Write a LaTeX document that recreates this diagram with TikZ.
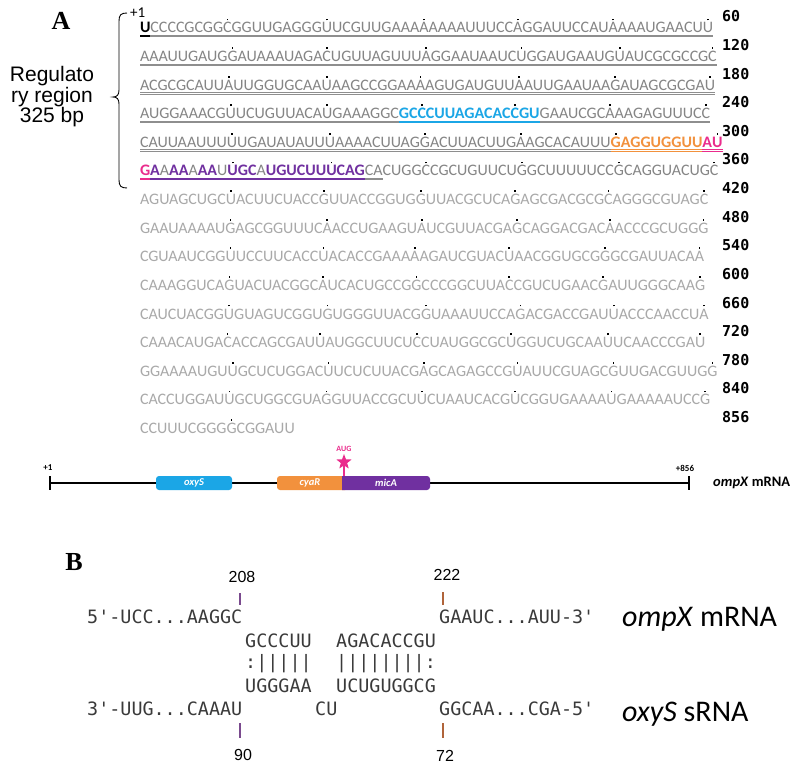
\documentclass[tikz,border=0pt]{standalone}
\usepackage{fontspec}
\setmainfont{Carlito}
\newfontfamily\arialf{Liberation Sans}
\newfontfamily\timesf{Liberation Serif}
\newfontfamily\monof{DejaVu Sans Mono}
\usetikzlibrary{shapes.geometric}
\definecolor{regg}{HTML}{858585}
\definecolor{ulg}{HTML}{8E8E8E}
\definecolor{cdsg}{HTML}{A9A9A9}
\definecolor{oxyblue}{HTML}{1BA6E6}
\definecolor{cyaor}{HTML}{F2913D}
\definecolor{micpur}{HTML}{7030A0}
\definecolor{augpink}{HTML}{EA2C8C}
\definecolor{bmono}{HTML}{3A3A3A}
\definecolor{tickpur}{HTML}{7A4A8E}
\definecolor{tickor}{HTML}{B0643A}
\newcommand\sdot[1]{\setbox2=\hbox{#1}\rlap{\hbox to \wd2{\hss\textcolor{black}{\rule[12.6pt]{1.7pt}{1.7pt}}\hss}}\box2}
\newcommand\useg[3]{\setbox0=\hbox{\color{#1}#3}\rlap{\color{#2}\rule[-2.6pt]{\wd0}{0.65pt}}\rlap{\color{#2}\rule[-4.1pt]{\wd0}{0.65pt}}\box0}
\newcommand\rgs[1]{\useg{regg}{ulg}{#1}}
\newcommand\bls[1]{\useg{oxyblue}{oxyblue}{\bfseries #1}}
\newcommand\ors[1]{\useg{cyaor}{cyaor}{\bfseries #1}}
\newcommand\pks[1]{\useg{augpink}{augpink}{\bfseries #1}}
\newcommand\pus[1]{\useg{micpur}{micpur}{\bfseries #1}}
\newcommand\pns[1]{\useg{regg}{micpur}{#1}}
\tikzset{
 seq/.style={anchor=base west, inner sep=0pt, outer sep=0pt, font=\fontsize{16}{19}\selectfont, text=cdsg},
 num/.style={anchor=base west, inner sep=0pt, font=\monof\bfseries\fontsize{15}{17}\selectfont},
 mono/.style={anchor=base west, inner sep=0pt, font=\monof\fontsize{18.4}{20}\selectfont, text=bmono},
 panel/.style={inner sep=0pt, font=\timesf\bfseries\fontsize{26}{30}\selectfont},
 posn/.style={inner sep=0pt, font=\arialf\fontsize{16}{19}\selectfont},
 rnalab/.style={anchor=base west, inner sep=0pt, font=\fontsize{30}{34}\selectfont},
 mapline/.style={line width=1.3pt},
 boxlab/.style={inner sep=0pt, text=white, font=\bfseries\itshape\fontsize{10.5}{12}\selectfont},
 posmark/.style={line width=1.3pt},
 maptxt/.style={inner sep=0pt, font=\bfseries\fontsize{9}{10}\selectfont},
}
\begin{document}
\begin{tikzpicture}[x=1pt,y=-1pt]
\fill[white] (0,0) rectangle (797,767);
\useasboundingbox (0,0) rectangle (797,767);
% ---------- panel A ----------
\node[panel] (pA) at (61,21) {A};
\node[align=center, inner sep=0pt, font=\arialf\fontsize{21}{18}\selectfont] (reg) at (52,96.6) {Regulato\\ry region\\325 bp};
\draw[line width=0.9pt] (127,13) .. controls (121,13) and (119,15) .. (119,21) -- (119,90) .. controls (119,95) and (117,97) .. (113,97) .. controls (117,97) and (119,99) .. (119,104) -- (119,180) .. controls (119,186) and (121,188) .. (127,188);
\node[anchor=base west, inner sep=0pt, font=\fontsize{15}{17}\selectfont] (p1) at (130,18) {+1};
\node[seq] (r1) at (140,33) {\useg{black}{black}{\bfseries U}\rgs{CCCCGCGG\sdot{C}GGUUGAGGG\sdot{U}UCGUUGAAA\sdot{A}AAAAUUUCC\sdot{A}GGAUUCCAU\sdot{A}AAAUGAACU\sdot{U}}};
\node[seq] (r2) at (140,61.6) {\rgs{AAAUUGAUG\sdot{G}AUAAAUAGA\sdot{C}UGUUAGUUU\sdot{A}GGAAUAAUC\sdot{U}GGAUGAAUG\sdot{U}AUCGCGCCG\sdot{C}}};
\node[seq] (r3) at (140,90.2) {\rgs{ACGCGCAUU\sdot{A}UUGGUGCAA\sdot{U}AAGCCGGAA\sdot{A}AGUGAUGUU\sdot{A}AUUGAAUAA\sdot{G}AUAGCGCGA\sdot{U}}};
\node[seq] (r4) at (140,118.8) {\rgs{AUGGAAACG\sdot{U}UCUGUUACA\sdot{U}GAAAGGC}\bls{GC\sdot{C}CUUAGACAC\sdot{C}GU}\rgs{GAAUCGC\sdot{A}AAGAGUUUC\sdot{C}}};
\node[seq] (r5) at (140,147.4) {\rgs{CAUUAAUUU\sdot{U}UGAUAUAUU\sdot{U}AAAACUUAG\sdot{G}ACUUACUUG\sdot{A}AGCACAUUU}\ors{\sdot{G}AGGUGGUU}\pks{A\sdot{U}}};
\node[seq] (r6) at (140,176) {\pks{G}\pus{A}\pns{A}\pus{AA}\pns{A}\pus{AA}\pns{U}\pus{\sdot{U}GC}\pns{A}\pus{UGUCUU\sdot{U}CAG}\rgs{CA}CUGG\sdot{C}CGCUGUUCU\sdot{G}GCUUUUUCC\sdot{G}CAGGUACUG\sdot{C}};
\node[seq] (r7) at (140,204.6) {AGUAGCUGC\sdot{U}ACUUCUACC\sdot{G}UUACCGGUG\sdot{G}UUACGCUCA\sdot{G}AGCGACGCG\sdot{C}AGGGCGUAG\sdot{C}};
\node[seq] (r8) at (140,233.2) {GAAUAAAAU\sdot{G}AGCGGUUUC\sdot{A}ACCUGAAGU\sdot{A}UCGUUACGA\sdot{G}CAGGACGAC\sdot{A}ACCCGCUGG\sdot{G}};
\node[seq] (r9) at (140,261.8) {CGUAAUCGG\sdot{U}UCCUUCACC\sdot{U}ACACCGAAA\sdot{A}AGAUCGUAC\sdot{U}AACGGUGCG\sdot{G}GCGAUUACA\sdot{A}};
\node[seq] (r10) at (140,290.4) {CAAAGGUCA\sdot{G}UACUACGGC\sdot{A}UCACUGCCG\sdot{G}CCCGGCUUA\sdot{C}CGUCUGAAC\sdot{G}AUUGGGCAA\sdot{G}};
\node[seq] (r11) at (140,319) {CAUCUACGG\sdot{U}GUAGUCGGU\sdot{G}UGGGUUACG\sdot{G}UAAAUUCCA\sdot{G}ACGACCGAU\sdot{U}ACCCAACCU\sdot{A}};
\node[seq] (r12) at (140,347.6) {CAAACAUGA\sdot{C}ACCAGCGAU\sdot{U}AUGGCUUCU\sdot{C}CUAUGGCGC\sdot{U}GGUCUGCAA\sdot{U}UCAACCCGA\sdot{U}};
\node[seq] (r13) at (140,376.2) {GGAAAAUGU\sdot{U}GCUCUGGAC\sdot{U}UCUCUUACG\sdot{A}GCAGAGCCG\sdot{U}AUUCGUAGC\sdot{G}UUGACGUUG\sdot{G}};
\node[seq] (r14) at (140,404.8) {CACCUGGAU\sdot{U}GCUGGCGUA\sdot{G}GUUACCGCU\sdot{U}CUAAUCACG\sdot{U}CGGUGAAAA\sdot{U}GAAAAAUCC\sdot{G}};
\node[seq] (r15) at (140,433.4) {CCUUUCGGG\sdot{G}CGGAUU};
\node[num] (n1) at (722,22) {60};
\node[num] (n2) at (722,50.6) {120};
\node[num] (n3) at (722,79.2) {180};
\node[num] (n4) at (722,107.8) {240};
\node[num] (n5) at (722,136.4) {300};
\node[num] (n6) at (722,165) {360};
\node[num] (n7) at (722,193.6) {420};
\node[num] (n8) at (722,222.2) {480};
\node[num] (n9) at (722,250.8) {540};
\node[num] (n10) at (722,279.4) {600};
\node[num] (n11) at (722,308) {660};
\node[num] (n12) at (722,336.6) {720};
\node[num] (n13) at (722,365.2) {780};
\node[num] (n14) at (722,393.8) {840};
\node[num] (n15) at (722,422.4) {856};
% ---------- map ----------
\coordinate (mL) at (50,483);
\coordinate (mR) at (689,483);
\draw[mapline] (mL) -- (mR);
\draw[mapline] ([yshift=7pt]mL) -- ([yshift=-7pt]mL);
\draw[mapline] ([yshift=7pt]mR) -- ([yshift=-7pt]mR);
\node[draw=none, fill=oxyblue, rounded corners=3pt, minimum width=76pt, minimum height=14pt, inner sep=0pt] (boxo) at (194,483) {};
\node[boxlab] (labo) at (boxo) {oxyS};
\fill[cyaor] (345,476) [rounded corners=3pt] -- (277,476) -- (277,490) [sharp corners] -- (345,490) -- cycle;
\fill[micpur] (342,476) [rounded corners=3pt] -- (430,476) -- (430,490) [sharp corners] -- (342,490) -- cycle;
\node[boxlab] (labc) at (310,483) {cyaR};
\node[boxlab] (labm) at (386,483) {micA};
\coordinate (stemb) at (344,476);
\node[star, star points=5, star point ratio=2.4, fill=augpink, minimum size=16pt, inner sep=0pt] (aug) at (344,462) {};
\draw[augpink, line width=1.3pt] (aug.center) -- (stemb);
\node[maptxt, text=augpink, font=\bfseries\fontsize{8}{9}\selectfont] (augt) at (344,449) {AUG};
\node[maptxt] (m1) at (48,468) {+1};
\node[maptxt] (m856) at (685,468) {+856};
\node[anchor=west, inner sep=0pt, font=\bfseries\fontsize{14.5}{16}\selectfont] (mname) at (713,483) {\textit{ompX} mRNA};
% ---------- panel B ----------
\node[panel] (pB) at (74,562) {B};
\node[posn] (l208) at (242,577) {208};
\node[posn] (l222) at (447,575) {222};
\coordinate (k208) at (240,593);
\coordinate (k222) at (443,592);
\draw[posmark, tickpur] (k208) -- ++(0,12);
\draw[posmark, tickor] (k222) -- ++(0,13);
\node[mono] (t5) at (87,623.7) {5\textquotesingle-UCC...AAGGC};
\node[mono] (t3e) at (439,623.7) {GAAUC...AUU-3\textquotesingle};
\node[mono] (tm1) at (245,647.7) {GCCCUU};
\node[mono] (tm2) at (336,647.7) {AGACACCGU};
\node[mono] (tp1) at (245,668.8) {:|||||};
\node[mono] (tp2) at (336,668.8) {||||||||:};
\node[mono] (ts1) at (245,692.7) {UGGGAA};
\node[mono] (ts2) at (336,692.7) {UCUGUGGCG};
\node[mono] (t3) at (87,715.7) {3\textquotesingle-UUG...CAAAU};
\node[mono] (tcu) at (315,715.7) {CU};
\node[mono] (t5e) at (439,715.7) {GGCAA...CGA-5\textquotesingle};
\coordinate (k90) at (240,723);
\coordinate (k72) at (443,723);
\draw[posmark, tickpur] (k90) -- ++(0,15);
\draw[posmark, tickor] (k72) -- ++(0,15);
\node[posn] (l90) at (243,755) {90};
\node[posn] (l72) at (445,756) {72};
\node[rnalab] (omp) at (622,626) {\textit{ompX} mRNA};
\node[rnalab] (oxy) at (622,721) {\textit{oxyS} sRNA};
\end{tikzpicture}
\end{document}
